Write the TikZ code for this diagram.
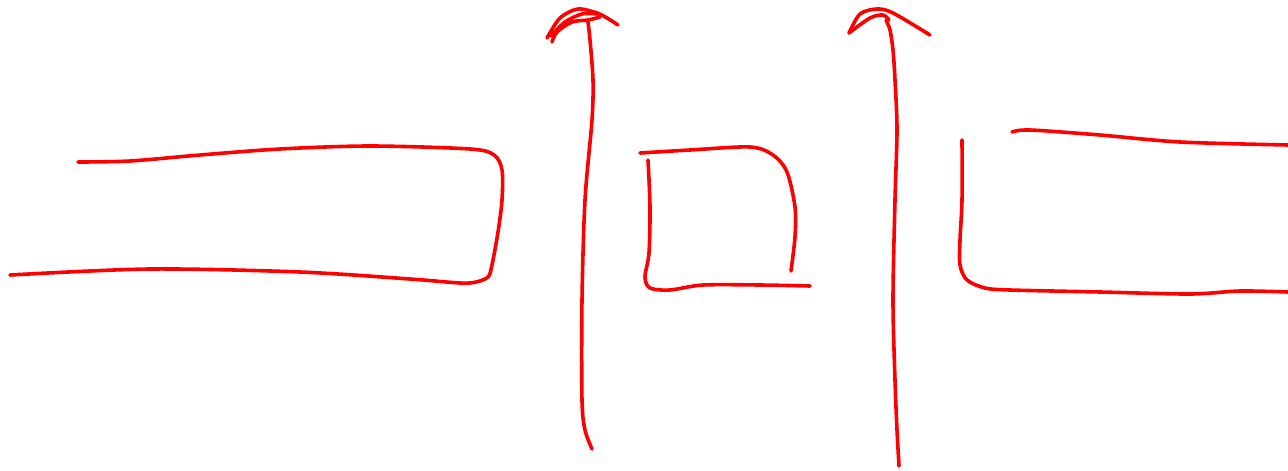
\documentclass[tikz,border=0pt]{standalone}
\begin{document}
\begin{tikzpicture}[x=1pt,y=-1pt,
  stroke/.style={draw=red, line width=3.6pt, line cap=round, line join=round}]
\useasboundingbox (0,0) rectangle (1288,471);
% left shape
\draw[stroke] plot[smooth, tension=0.5] coordinates {(78,162) (130,161) (200,155) (280,149) (370,146) (470,149) (494,155) (502,170) (502,200) (498,232) (492,265) (488,277) (476,282) (460,283) (410,279) (300,272) (150,269) (10,275)};
% arrow 1
\draw[stroke] plot[smooth, tension=0.5] coordinates {(592,449) (585,430) (582,400) (582,300) (585,200) (592,120) (593,80) (590,40) (588,22)};
\draw[stroke] plot[smooth, tension=0.5] coordinates {(547,38) (560,18) (578,9) (597,13) (607,18) (618,25)};
\draw[stroke] plot[smooth, tension=0.5] coordinates {(552,42) (557,32) (572,22) (588,20) (600,17)};
\draw[stroke] plot[smooth, tension=0.5] coordinates {(551,36) (565,22) (582,14) (598,14)};
% middle box
\draw[stroke] plot[smooth, tension=0.5] coordinates {(640,153) (690,150) (750,147) (773,155) (787,172) (795,207) (795,237) (791,271)};
\draw[stroke] plot[smooth, tension=0.5] coordinates {(648,160) (650,207) (649,253) (645,277) (650,288) (670,290) (703,285) (760,285) (810,286)};
% arrow 2
\draw[stroke] plot[smooth, tension=0.5] coordinates {(899,466) (897,430) (895,380) (893,300) (895,200) (897,130) (895,80) (893,50) (890,30) (886,20)};
\draw[stroke] plot[smooth, tension=0.5] coordinates {(849,33) (860,14) (877,9) (893,13) (930,35)};
\draw[stroke] plot[smooth, tension=0.5] coordinates {(849,33) (870,18) (883,15) (889,20)};
% right shape
\draw[stroke] plot[smooth, tension=0.5] coordinates {(962,140) (962,200) (960,240) (960,265) (967,280) (985,288) (1010,290) (1100,292) (1190,294) (1240,291) (1288,292)};
\draw[stroke] plot[smooth, tension=0.5] coordinates {(1012,132) (1030,130) (1100,135) (1180,142) (1288,145)};
\end{tikzpicture}
\end{document}
